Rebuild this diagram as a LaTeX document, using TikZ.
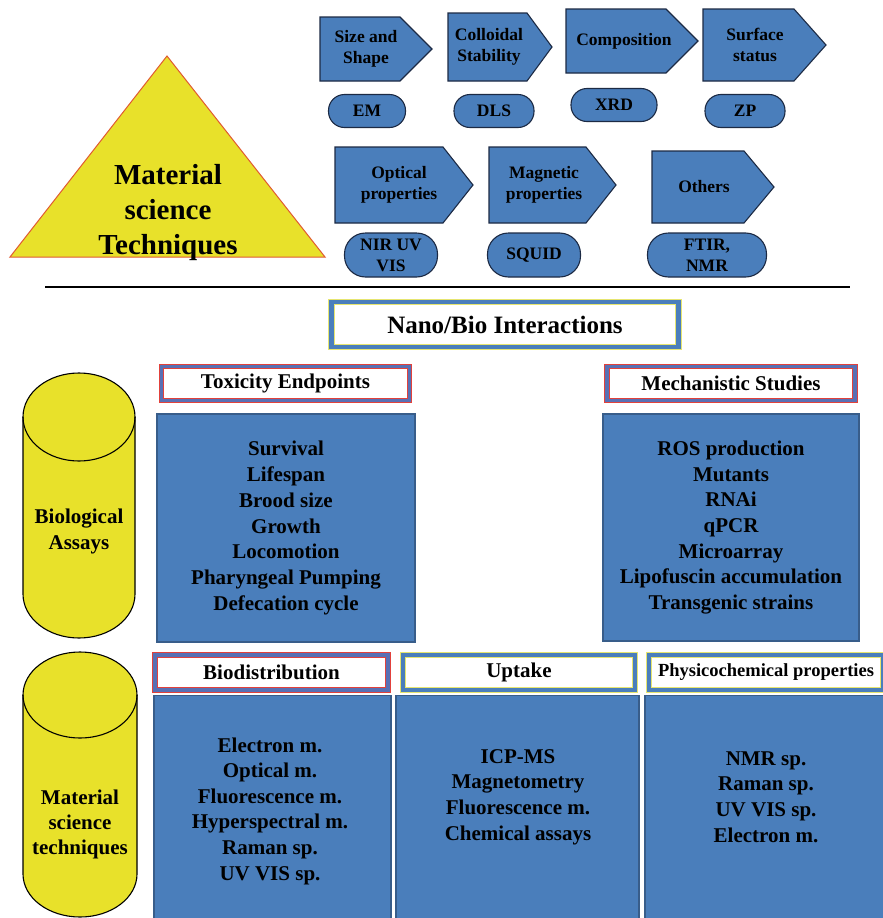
\documentclass[tikz,border=0pt]{standalone}
\usepackage{fontspec}
\setmainfont{Liberation Serif}
\usepackage{tikz}
\usetikzlibrary{positioning}
\definecolor{boxblue}{HTML}{4A7EBB}
\definecolor{boxedge}{HTML}{385D8A}
\definecolor{tagedge}{HTML}{1C2A44}
\definecolor{cylyellow}{HTML}{E8E12A}
\definecolor{hdrred}{HTML}{E2413B}
\definecolor{hdrblue}{HTML}{5870B4}
\definecolor{hdryellow}{HTML}{E6E570}
\definecolor{trired}{HTML}{E05A30}
\newcommand{\setfs}[2]{\fontsize{#1}{#2}\selectfont}
\tikzstyle{tag} = [draw=tagedge, fill=boxblue, line width=1.1pt, line join=miter]
\tikzstyle{cylbody} = [draw=black, fill=cylyellow, line width=1.1pt]

\begin{document}
\begin{tikzpicture}[x=1pt, y=-1pt,
    tagtext/.style={align=center, inner sep=0pt, font=\bfseries\setfs{17.5}{21}},
    pill/.style={draw=tagedge, fill=boxblue, line width=1.1pt, inner sep=0pt, align=center, font=\bfseries\setfs{17.5}{21}},
    hdrrb/.style={draw=hdrred, line width=0.9pt, double=hdrblue, double distance=3.5pt, fill=white, inner sep=0pt, font=\bfseries\setfs{21}{25}},
    hdryb/.style={draw=hdryellow, line width=0.9pt, double=boxblue, double distance=3.5pt, fill=white, inner sep=0pt, font=\bfseries\setfs{21}{25}},
    bodybox/.style={draw=boxedge, fill=boxblue, line width=1.2pt, inner sep=0pt, align=center, font=\bfseries\setfs{21}{25.7}},
    bodytext/.style={inner sep=0pt, align=center, font=\bfseries\setfs{21}{25.6}}]

    \fill[white] (0,0) rectangle (883,918);
    \useasboundingbox (0,0) rectangle (883,918);

    % material science techniques
    \draw[draw=trired, fill=cylyellow, line width=1pt] (10,257) -- (325,257) -- (167,56) -- cycle;
    \node[align=center, inner sep=0pt, font=\bfseries\setfs{29}{35}] (tri) at (168,213) {Material\\science\\Techniques};

    \draw[tag] (320,17) -- (400,17) -- (432,49) -- (400,81) -- (320,81) -- cycle;
    \node[tagtext] (size) at (366,49) {Size and\\Shape};
    \draw[tag] (448,13) -- (527,13) -- (552,47) -- (527,81) -- (448,81) -- cycle;
    \node[tagtext] (colloid) at (489,47) {Colloidal\\Stability};
    \draw[tag] (566,9) -- (666,9) -- (698,41) -- (666,73) -- (566,73) -- cycle;
    \node[tagtext] (compo) at (624,41) {Composition};
    \draw[tag] (703,9) -- (794,9) -- (826,45) -- (794,81) -- (703,81) -- cycle;
    \node[tagtext] (surf) at (755,45) {Surface\\status};

    \node[pill, minimum width=77pt, minimum height=33pt, rounded corners=16pt] (em) at (367,111) {EM};
    \node[pill, minimum width=80pt, minimum height=33pt, rounded corners=16pt] (dls) at (494,111) {DLS};
    \node[pill, minimum width=86pt, minimum height=33pt, rounded corners=16pt] (xrd) at (614,105) {XRD};
    \node[pill, minimum width=80pt, minimum height=33pt, rounded corners=16pt] (zp) at (745,111) {ZP};

    \draw[tag] (335,147) -- (443,147) -- (473,185) -- (443,223) -- (335,223) -- cycle;
    \node[tagtext] (optic) at (399,185) {Optical\\properties};
    \draw[tag] (489,147) -- (586,147) -- (616,185) -- (586,223) -- (489,223) -- cycle;
    \node[tagtext] (magnet) at (544,185) {Magnetic\\properties};
    \draw[tag] (652,151) -- (744,151) -- (774,187) -- (744,223) -- (652,223) -- cycle;
    \node[tagtext] (other) at (704,187) {Others};

    \node[pill, minimum width=93pt, minimum height=44pt, rounded corners=21pt] (nir) at (391,255) {NIR UV\\VIS};
    \node[pill, minimum width=93pt, minimum height=44pt, rounded corners=21pt] (squid) at (534,255) {SQUID};
    \node[pill, minimum width=119pt, minimum height=44pt, rounded corners=21pt] (ftir) at (707,255) {FTIR,\\NMR};

    \draw[line width=2.2pt] (45,287) -- (850,287);

    % nano/bio interactions
    \node[hdryb, line width=1pt, double distance=4.5pt, minimum width=347pt, minimum height=45pt, font=\bfseries\setfs{25}{29}] (nanobio) at (505,324.5) {Nano/Bio Interactions};

    \node[hdrrb, minimum width=248pt, minimum height=34pt] (toxh) at (285.5,383.5) {Toxicity Endpoints};
    \node[hdrrb, minimum width=248pt, minimum height=34pt] (mechh) at (731,383.5) {Mechanistic Studies};

    \node[bodybox, minimum width=258pt, minimum height=228pt] (toxb) at (286,528) {Survival\\Lifespan\\Brood size\\Growth\\Locomotion\\Pharyngeal Pumping\\Defecation cycle};
    \node[bodybox, minimum width=256pt, minimum height=227pt] (mechb) at (731,527.5) {ROS production\\Mutants\\RNAi\\qPCR\\Microarray\\Lipofuscin accumulation\\Transgenic strains};

    % cylinders
    \draw[cylbody] (23,417) -- (23,594) arc[start angle=180, end angle=360, x radius=56pt, y radius=44pt] -- (135,417) arc[start angle=0, end angle=180, x radius=56pt, y radius=44pt] -- cycle;
    \draw[line width=1.1pt] (23,417) arc[start angle=180, end angle=360, x radius=56pt, y radius=44pt];
    \node[bodytext, font=\bfseries\setfs{21}{26}] (bioassay) at (79,531) {Biological\\Assays};

    \draw[cylbody] (23,695) -- (23,874) arc[start angle=180, end angle=360, x radius=57pt, y radius=43pt] -- (137,695) arc[start angle=0, end angle=180, x radius=57pt, y radius=43pt] -- cycle;
    \draw[line width=1.1pt] (23,695) arc[start angle=180, end angle=360, x radius=57pt, y radius=43pt];
    \node[bodytext, font=\bfseries\setfs{21}{25}] (mattech) at (80,824) {Material\\science\\techniques};

    \node[hdrrb, minimum width=233pt, minimum height=35pt] (bioh) at (271.5,672.5) {Biodistribution};
    \node[hdryb, minimum width=232pt, minimum height=35pt] (uph) at (519,672.5) {Uptake};
    \node[hdryb, minimum width=234pt, minimum height=35pt, font=\bfseries\setfs{18.5}{22}] (physh) at (766,672.5) {Physicochemical properties};

    \node[bodybox, minimum width=237pt, minimum height=230pt, anchor=north] (biob) at (272.5,695) {};
    \node[bodybox, minimum width=243pt, minimum height=230pt, anchor=north] (upb) at (517.5,695) {};
    \node[bodybox, minimum width=245pt, minimum height=230pt, anchor=north] (physb) at (767.5,695) {};

    \node[bodytext] (biot) at (270,811) {Electron m.\\Optical m.\\Fluorescence m.\\Hyperspectral m.\\Raman sp.\\UV VIS sp.};
    \node[bodytext] (upt) at (518,797) {ICP-MS\\Magnetometry\\Fluorescence m.\\Chemical assays};
    \node[bodytext] (physt) at (766,797) {NMR sp.\\Raman sp.\\UV VIS sp.\\Electron m.};

\end{tikzpicture}
\end{document}
